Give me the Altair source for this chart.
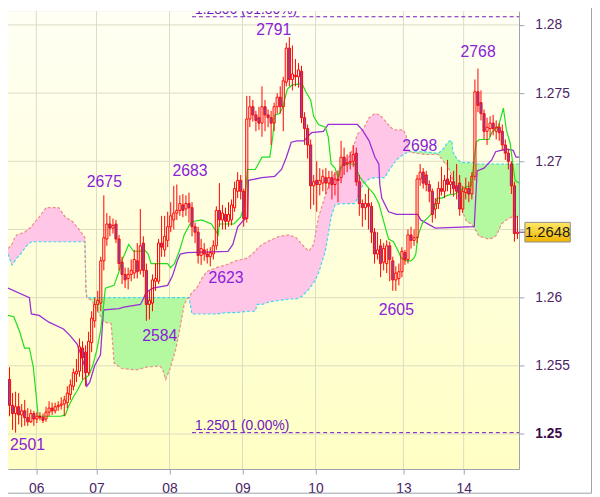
import altair as alt
import pandas as pd

W, H = 518, 464
X_DOMAIN = [0, 168]
Y_DOMAIN = [1.24743, 1.28100]

day_pos = [9.3, 29.1, 53.1, 77.1, 101.1, 130.0, 149.8]
day_labels = ["06", "07", "08", "09", "10", "13", "14"]
y_ticks = [1.25, 1.255, 1.26, 1.265, 1.27, 1.275, 1.28]

opens = [1.2540,1.2521,1.2515,1.2520,1.2514,1.2517,1.2512,1.2509,1.2515,1.2511,
 1.2513,1.2512,1.2511,1.2516,1.2519,1.2517,1.2520,1.2521,1.2522,1.2523,
 1.2529,1.2535,1.2544,1.2546,1.2563,1.2560,1.2545,1.2567,1.2583,1.2595,
 1.2596,1.2627,1.2643,1.2654,1.2651,1.2654,1.2643,1.2626,1.2617,1.2614,
 1.2617,1.2618,1.2627,1.2620,1.2640,1.2620,1.2595,1.2596,1.2612,1.2612,
 1.2640,1.2635,1.2642,1.2652,1.2657,1.2662,1.2664,1.2668,1.2665,1.2669,
 1.2666,1.2652,1.2648,1.2631,1.2635,1.2632,1.2630,1.2632,1.2638,1.2664,
 1.2657,1.2661,1.2656,1.2657,1.2666,1.2678,1.2686,1.2678,1.2658,1.2731,
 1.2740,1.2734,1.2732,1.2728,1.2740,1.2734,1.2732,1.2728,1.2740,1.2747,
 1.2740,1.2758,1.2783,1.2760,1.2763,1.2762,1.2766,1.2732,1.2724,1.2712,
 1.2682,1.2686,1.2683,1.2684,1.2688,1.2684,1.2688,1.2683,1.2687,1.2688,
 1.2703,1.2698,1.2699,1.2700,1.2706,1.2685,1.2669,1.2666,1.2669,1.2667,
 1.2648,1.2632,1.2638,1.2626,1.2625,1.2638,1.2627,1.2613,1.2614,1.2619,
 1.2633,1.2628,1.2646,1.2642,1.2644,1.2687,1.2692,1.2690,1.2683,1.2678,
 1.2665,1.2669,1.2680,1.2678,1.2687,1.2683,1.2685,1.2682,1.2684,1.2665,
 1.2677,1.2680,1.2676,1.2689,1.2751,1.2743,1.2735,1.2722,1.2724,1.2728,
 1.2722,1.2725,1.2722,1.2712,1.2706,1.2698,1.2682,1.2647]

highs = [1.2549,1.2530,1.2531,1.2530,1.2522,1.2525,1.2519,1.2518,1.2517,1.2516,
 1.2516,1.2515,1.2520,1.2524,1.2523,1.2523,1.2524,1.2527,1.2528,1.2535,
 1.2540,1.2548,1.2555,1.2570,1.2568,1.2565,1.2575,1.2590,1.2600,1.2605,
 1.2630,1.2675,1.2662,1.2660,1.2658,1.2657,1.2646,1.2630,1.2622,1.2622,
 1.2628,1.2635,1.2640,1.2665,1.2645,1.2625,1.2605,1.2617,1.2625,1.2643,
 1.2660,1.2660,1.2663,1.2670,1.2682,1.2683,1.2675,1.2676,1.2675,1.2677,
 1.2670,1.2655,1.2652,1.2643,1.2640,1.2636,1.2637,1.2642,1.2667,1.2684,
 1.2668,1.2666,1.2670,1.2672,1.2685,1.2692,1.2690,1.2680,1.2748,1.2748,
 1.2745,1.2737,1.2740,1.2755,1.2745,1.2738,1.2737,1.2743,1.2750,1.2755,
 1.2762,1.2787,1.2791,1.2785,1.2775,1.2772,1.2770,1.2736,1.2727,1.2716,
 1.2690,1.2700,1.2695,1.2694,1.2695,1.2693,1.2693,1.2692,1.2693,1.2715,
 1.2710,1.2705,1.2707,1.2712,1.2710,1.2690,1.2672,1.2676,1.2680,1.2670,
 1.2651,1.2648,1.2643,1.2640,1.2642,1.2641,1.2630,1.2623,1.2625,1.2637,
 1.2635,1.2650,1.2652,1.2650,1.2690,1.2698,1.2695,1.2693,1.2686,1.2680,
 1.2673,1.2685,1.2696,1.2690,1.2701,1.2690,1.2693,1.2698,1.2690,1.2682,
 1.2688,1.2685,1.2692,1.2760,1.2768,1.2752,1.2738,1.2732,1.2733,1.2734,
 1.2730,1.2728,1.2727,1.2716,1.2709,1.2700,1.2685,1.2660]

lows = [1.2513,1.2503,1.2501,1.2507,1.2505,1.2506,1.2506,1.2508,1.2506,1.2508,
 1.2510,1.2508,1.2509,1.2513,1.2514,1.2515,1.2517,1.2518,1.2513,1.2519,
 1.2525,1.2532,1.2538,1.2542,1.2540,1.2535,1.2543,1.2560,1.2578,1.2590,
 1.2590,1.2620,1.2638,1.2645,1.2647,1.2640,1.2620,1.2610,1.2607,1.2606,
 1.2612,1.2614,1.2614,1.2617,1.2615,1.2583,1.2584,1.2590,1.2605,1.2610,
 1.2630,1.2630,1.2637,1.2648,1.2650,1.2657,1.2660,1.2659,1.2660,1.2655,
 1.2645,1.2640,1.2625,1.2624,1.2627,1.2625,1.2623,1.2628,1.2635,1.2652,
 1.2650,1.2650,1.2652,1.2653,1.2663,1.2673,1.2672,1.2652,1.2655,1.2725,
 1.2729,1.2722,1.2723,1.2718,1.2722,1.2725,1.2712,1.2722,1.2735,1.2735,
 1.2722,1.2755,1.2755,1.2752,1.2755,1.2754,1.2728,1.2712,1.2702,1.2665,
 1.2668,1.2663,1.2675,1.2678,1.2676,1.2680,1.2672,1.2675,1.2670,1.2684,
 1.2690,1.2692,1.2694,1.2696,1.2682,1.2660,1.2652,1.2657,1.2650,1.2640,
 1.2625,1.2628,1.2615,1.2620,1.2618,1.2612,1.2605,1.2605,1.2609,1.2615,
 1.2624,1.2625,1.2636,1.2638,1.2640,1.2682,1.2680,1.2678,1.2670,1.2655,
 1.2658,1.2665,1.2675,1.2673,1.2678,1.2676,1.2674,1.2672,1.2660,1.2662,
 1.2672,1.2670,1.2672,1.2686,1.2736,1.2730,1.2716,1.2712,1.2718,1.2719,
 1.2716,1.2715,1.2708,1.2701,1.2694,1.2676,1.2641,1.2643]

closes = [1.2521,1.2515,1.2520,1.2514,1.2517,1.2512,1.2509,1.2515,1.2511,1.2513,
 1.2512,1.2510,1.2516,1.2519,1.2517,1.2520,1.2521,1.2522,1.2525,1.2530,
 1.2536,1.2545,1.2546,1.2564,1.2556,1.2545,1.2568,1.2585,1.2595,1.2598,
 1.2627,1.2644,1.2654,1.2651,1.2653,1.2643,1.2625,1.2617,1.2613,1.2617,
 1.2620,1.2628,1.2619,1.2638,1.2620,1.2595,1.2598,1.2613,1.2614,1.2640,
 1.2637,1.2645,1.2652,1.2660,1.2662,1.2664,1.2669,1.2664,1.2669,1.2666,
 1.2652,1.2648,1.2631,1.2636,1.2632,1.2630,1.2633,1.2638,1.2664,1.2657,
 1.2662,1.2656,1.2661,1.2668,1.2680,1.2686,1.2678,1.2658,1.2731,1.2740,
 1.2734,1.2730,1.2728,1.2740,1.2734,1.2732,1.2728,1.2740,1.2747,1.2740,
 1.2759,1.2783,1.2760,1.2764,1.2762,1.2767,1.2732,1.2724,1.2712,1.2682,
 1.2685,1.2683,1.2686,1.2689,1.2684,1.2688,1.2683,1.2687,1.2686,1.2703,
 1.2697,1.2699,1.2700,1.2705,1.2685,1.2669,1.2666,1.2669,1.2667,1.2648,
 1.2632,1.2635,1.2625,1.2636,1.2638,1.2628,1.2613,1.2618,1.2619,1.2634,
 1.2628,1.2646,1.2642,1.2644,1.2687,1.2692,1.2684,1.2683,1.2678,1.2661,
 1.2669,1.2680,1.2678,1.2686,1.2683,1.2685,1.2680,1.2678,1.2665,1.2678,
 1.2680,1.2676,1.2689,1.2751,1.2741,1.2735,1.2722,1.2725,1.2728,1.2724,
 1.2725,1.2721,1.2712,1.2706,1.2700,1.2682,1.2647,1.2648]

tenkan_x = [0, 1.92, 3.84, 5.44, 7.04, 8.32, 9.28, 9.92, 17.28, 18.88, 19.84, 21.44, 23.04, 24.64, 26.56,
 27.84, 29.12, 30.4, 31.36, 32.0, 34.88, 36.48, 37.44, 39.68, 41.28, 43.52, 44.48, 46.08, 47.04, 52.48,
 53.44, 54.72, 56.32, 57.92, 59.84, 61.12, 63.68, 66.88, 69.12, 69.44, 74.24, 76.48, 77.76, 78.72, 81.28,
 83.52, 86.08, 87.04, 87.68, 89.28, 90.24, 91.84, 93.44, 96.64, 97.92, 99.52, 100.48, 102.08, 104.32, 105.28,
 106.24, 107.52, 108.48, 109.44, 110.08, 113.92, 115.52, 116.48, 118.72, 120.32, 121.92, 122.88, 124.48, 125.12,
 126.72, 128.32, 129.28, 130.88, 132.48, 133.44, 134.08, 134.72, 136.32, 138.24, 139.84, 141.12, 142.72, 144.32,
 146.88, 148.48, 150.08, 152.32, 152.64, 153.92, 154.88, 158.08, 159.04, 161.28, 162.88, 163.84, 165.12, 166.08,
 166.72, 168]
tenkan_y = [1.2587, 1.2586, 1.2575, 1.2563, 1.2563, 1.2549, 1.2528, 1.2513, 1.2513, 1.2514, 1.2520, 1.2527, 1.2533, 1.2540, 1.2543,
 1.2550, 1.2561, 1.2575, 1.2593, 1.2607, 1.2609, 1.2619, 1.2627, 1.2639, 1.2634, 1.2634, 1.2636, 1.2632, 1.2625, 1.2625,
 1.2622, 1.2625, 1.2634, 1.2646, 1.2654, 1.2656, 1.2657, 1.2654, 1.2646, 1.2654, 1.2654, 1.2659, 1.2668, 1.2694, 1.2694,
 1.2703, 1.2703, 1.2718, 1.2734, 1.2735, 1.2739, 1.2753, 1.2756, 1.2757, 1.2751, 1.2745, 1.2733, 1.2727, 1.2725, 1.2718,
 1.2698, 1.2695, 1.2688, 1.2695, 1.2698, 1.2698, 1.2689, 1.2686, 1.2680, 1.2676, 1.2669, 1.2661, 1.2648, 1.2643,
 1.2641, 1.2634, 1.2629, 1.2627, 1.2627, 1.2629, 1.2632, 1.2645, 1.2655, 1.2659, 1.2663, 1.2673, 1.2673, 1.2675,
 1.2676, 1.2678, 1.2681, 1.2682, 1.2689, 1.2714, 1.2716, 1.2716, 1.2721, 1.2726, 1.2739, 1.2723, 1.2713, 1.2696,
 1.2686, 1.2684]

kijun_x = [0, 7.04, 7.68, 10.24, 13.44, 18.24, 20.48, 22.72, 24.32, 25.28, 25.92, 26.88, 28.48, 30.4, 31.36,
 31.68, 36.48, 38.08, 43.52, 44.48, 45.44, 47.68, 52.48, 54.08, 55.68, 56.64, 58.88, 72.32, 73.92, 75.52,
 77.12, 78.72, 79.04, 83.52, 87.68, 89.92, 91.52, 93.12, 95.04, 97.28, 98.88, 99.84, 103.68, 105.28, 114.88,
 116.48, 118.72, 120.64, 121.92, 122.24, 122.88, 125.12, 127.68, 134.72, 135.68, 140.48, 153.28, 154.24, 156.48,
 159.04, 160.32, 163.84, 166.08, 167.04, 168]
kijun_y = [1.2607, 1.2600, 1.2588, 1.2587, 1.2582, 1.2577, 1.2572, 1.2566, 1.2556, 1.2549, 1.2535, 1.2538, 1.2550, 1.2558, 1.2590,
 1.2591, 1.2592, 1.2593, 1.2595, 1.2599, 1.2604, 1.2607, 1.2609, 1.2616, 1.2627, 1.2632, 1.2633, 1.2634, 1.2639, 1.2652,
 1.2656, 1.2659, 1.2686, 1.2688, 1.2689, 1.2694, 1.2703, 1.2714, 1.2715, 1.2715, 1.2719, 1.2721, 1.2722, 1.2727, 1.2727,
 1.2723, 1.2715, 1.2703, 1.2698, 1.2683, 1.2673, 1.2663, 1.2661, 1.2661, 1.2657, 1.2651, 1.2652, 1.2693, 1.2695,
 1.2701, 1.2707, 1.2709, 1.2708, 1.2703, 1.2703]

pink1_x = [0, 1.28, 2.24, 2.88, 4.16, 5.44, 6.08, 7.68, 8.32, 10.24, 12.48, 15.04, 16.64, 18.88, 21.12, 23.04, 25.28]
pink1_b = [1.2636, 1.2639, 1.2644, 1.2646, 1.2647, 1.2648, 1.2649, 1.2652, 1.2654, 1.2659, 1.2666, 1.2666, 1.2666, 1.2659, 1.2656, 1.2651, 1.2644]
pink1_a = [1.2632, 1.2624, 1.2627, 1.2629, 1.2632, 1.2636, 1.2638, 1.2641, 1.2641, 1.2641, 1.2641, 1.2641, 1.2641, 1.2641, 1.2641, 1.2641, 1.2641]

green1_x = [25.6, 25.92, 27.52, 29.44, 31.68, 33.92, 34.88, 37.44, 42.24, 45.44, 49.92, 50.88, 51.84, 53.12, 54.08, 55.04, 56.32, 57.92, 58.88, 59.52]
green1_a = [1.2607, 1.2600, 1.2600, 1.2600, 1.2600, 1.2600, 1.2600, 1.2600, 1.2600, 1.2600, 1.2600, 1.2600, 1.2600, 1.2600, 1.2600, 1.2600, 1.2600, 1.2600, 1.2600, 1.2600]
green1_b = [1.2606, 1.2600, 1.2598, 1.2590, 1.2582, 1.2581, 1.2552, 1.2548, 1.2547, 1.2549, 1.2550, 1.2547, 1.2540, 1.2547, 1.2554, 1.2561, 1.2575, 1.2595, 1.2599, 1.2600]

pink2_x = [59.52, 60.48, 62.08, 63.68, 65.28, 68.48, 71.68, 74.88, 78.72, 81.28, 81.92, 83.52, 86.08, 89.28, 92.48, 94.72, 96.64, 98.88, 100.48, 102.08,
 104.32, 106.24, 107.52, 109.44, 112.64, 113.92, 114.88, 116.48, 117.12, 118.72, 120.64, 122.24, 123.84, 125.44, 126.72, 127.68, 129.92, 130.88, 131.52, 131.84]
pink2_b = [1.2600, 1.2604, 1.2607, 1.2614, 1.2619, 1.2622, 1.2624, 1.2627, 1.2629, 1.2634, 1.2636, 1.2639, 1.2642, 1.2645, 1.2646, 1.2644, 1.2639, 1.2634, 1.2639, 1.2659,
 1.2675, 1.2687, 1.2691, 1.2696, 1.2705, 1.2713, 1.2720, 1.2723, 1.2725, 1.2732, 1.2735, 1.2734, 1.2730, 1.2726, 1.2723, 1.2723, 1.2723, 1.2719, 1.2710, 1.2707]
pink2_a = [1.2600, 1.2588, 1.2588, 1.2588, 1.2588, 1.2588, 1.2589, 1.2589, 1.2590, 1.2590, 1.2595, 1.2595, 1.2597, 1.2598, 1.2599, 1.2599, 1.2601, 1.2606, 1.2611, 1.2618,
 1.2634, 1.2659, 1.2668, 1.2669, 1.2669, 1.2669, 1.2673, 1.2682, 1.2684, 1.2687, 1.2688, 1.2688, 1.2688, 1.2694, 1.2698, 1.2701, 1.2705, 1.2706, 1.2707, 1.2707]

green2_x = [131.84, 134.08, 137.28, 140.48, 141.44, 142.08, 142.72, 143.68, 144.32, 144.64, 145.28, 145.92, 146.24, 147.52, 148.48,
 149.44, 150.72, 152.32, 153.28, 153.92, 154.88, 156.48, 158.08, 159.68, 160.64, 162.24, 163.84, 165.44, 168]
green2_a = [1.2707, 1.2707, 1.2707, 1.2706, 1.2706, 1.2707, 1.2708, 1.2711, 1.2713, 1.2714, 1.2715, 1.2715, 1.2707, 1.2702, 1.2700,
 1.2699, 1.2699, 1.2699, 1.2699, 1.2698, 1.2698, 1.2698, 1.2698, 1.2698, 1.2698, 1.2698, 1.2698, 1.2698, 1.2698]
green2_b = [1.2707, 1.2706, 1.2705, 1.2705, 1.2705, 1.2703, 1.2702, 1.2698, 1.2698, 1.2696, 1.2693, 1.2689, 1.2684, 1.2681, 1.2673,
 1.2663, 1.2656, 1.2654, 1.2651, 1.2649, 1.2645, 1.2644, 1.2643, 1.2644, 1.2646, 1.2654, 1.2657, 1.2659, 1.2659]

peak_text = ["2675", "2683", "2791", "2768", "2698", "2623", "2584", "2605", "2501"]
peak_x = [31.68, 59.84, 87.36, 154.56, 135.36, 71.68, 49.92, 127.68, 6.4]
peak_y = [1.2685, 1.2693, 1.2796, 1.2780, 1.2711, 1.2614, 1.2572, 1.2591, 1.2492]

fib_levels = [1.2806, 1.2501]
fib_text = ["1.2806 (61.80%)", "1.2501 (0.00%)"]
fib_start = [60.5, 60.5]
fib_end = [168, 168]

last_price = closes[-1]

# ---------------- styling ----------------
FONT = "Liberation Sans"
AXIS_COLOR = "#9aa3ad"
LABEL_COLOR = "#4a2466"
GRID = "#dcdbc3"
PINK = "#ffc6e8"
GREEN = "#b4f8a0"
CYAN = "#3fd7f2"
SALMON = "#f08a8a"
TENKAN = "#1ee01e"
KIJUN = "#9a2fd6"
PEAK = "#8a22d8"
FIB = "#7016c0"
RED = "#ff0000"
BODY_FILL = "#7550c0"

xs = alt.Scale(domain=X_DOMAIN, nice=False, zero=False)
ys = alt.Scale(domain=Y_DOMAIN, nice=False, zero=False)

x_label_expr = " : ".join(
    f"datum.value < {p + 5} ? '{l}'" for p, l in zip(day_pos[:-1], day_labels[:-1])
) + f" : '{day_labels[-1]}'"

x_axis = alt.Axis(values=day_pos, labelExpr=x_label_expr, grid=False, ticks=True, tickSize=5,
                  tickColor=AXIS_COLOR, domainColor=AXIS_COLOR, labelColor=LABEL_COLOR,
                  labelFont=FONT, labelFontSize=14, labelPadding=8, title=None,
                  orient="bottom", labelAngle=0, labelFlush=False)
y_axis = alt.Axis(values=y_ticks, orient="right", format=".3~f",
                  labelExpr="abs(datum.value - 1.265) < 0.0001 ? '' : datum.label",
                  grid=False, ticks=True, tickSize=5, tickColor=AXIS_COLOR, domainColor=AXIS_COLOR,
                  labelColor={"condition": {"test": "datum.value < 1.2525", "value": "#3a0d4a"}, "value": LABEL_COLOR},
                  labelFontWeight={"condition": {"test": "datum.value < 1.2525", "value": "bold"}, "value": "normal"},
                  labelFont=FONT, labelFontSize=14, labelPadding=11, title=None, labelFlush=False)


def X(f):
    return alt.X(f, type="quantitative", scale=xs, axis=x_axis)


def Y(f):
    return alt.Y(f, type="quantitative", scale=ys, axis=y_axis)


# ---------------- data frames ----------------
n = len(opens)
cdf = pd.DataFrame({"i": range(n), "open": opens, "high": highs, "low": lows, "close": closes})
cdf["x"] = cdf["i"] + 0.5
cdf["xl"] = cdf["i"] + 0.15
cdf["xr"] = cdf["i"] + 0.85
cdf["top"] = cdf[["open", "close"]].max(axis=1)
cdf["bot"] = cdf[["open", "close"]].min(axis=1)

segs = [("bear", pink1_x, pink1_a, pink1_b), ("bull", green1_x, green1_a, green1_b),
        ("bear", pink2_x, pink2_a, pink2_b), ("bull", green2_x, green2_a, green2_b)]
frames = []
for sid, (kind, sx, sa, sb) in enumerate(segs):
    frames.append(pd.DataFrame({"x": sx, "a": sa, "b": sb, "seg": sid, "kind": kind}))
cloud_df = pd.concat(frames, ignore_index=True)
cloud_df["order"] = range(len(cloud_df))

tk_df = pd.DataFrame({"x": tenkan_x, "y": tenkan_y})
kj_df = pd.DataFrame({"x": kijun_x, "y": kijun_y})
peak_df = pd.DataFrame({"x": peak_x, "y": peak_y, "t": peak_text})
fib_df = pd.DataFrame({"xs": fib_start, "xe": fib_end, "y": fib_levels, "t": fib_text})
price_df = pd.DataFrame({"p": [last_price], "lbl": [f"{last_price:.4f}"]})
grid_y_df = pd.DataFrame({"v": y_ticks})
grid_x_df = pd.DataFrame({"v": day_pos})
one = pd.DataFrame({"v": [0]})

# ---------------- layers ----------------
bg = alt.Chart(one).mark_rect(
    fill={"gradient": "linear", "x1": 0, "y1": 0, "x2": 0, "y2": 1,
          "stops": [{"offset": 0, "color": "#fffff4"}, {"offset": 1, "color": "#ffffc4"}]},
    strokeWidth=0,
).encode(x=alt.value(0), x2=alt.value(W), y=alt.value(0), y2=alt.value(H))

grid_y = alt.Chart(grid_y_df).mark_rule(color=GRID, strokeWidth=1).encode(y=Y("v"))
grid_x = alt.Chart(grid_x_df).mark_rule(color=GRID, strokeWidth=1).encode(x=X("v"))

cloud = alt.Chart(cloud_df).mark_area(opacity=1, interpolate="linear").encode(
    x=X("x"), y=Y("a"), y2="b", detail="seg:N",
    color=alt.Color("kind:N", scale=alt.Scale(domain=["bear", "bull"], range=[PINK, GREEN]), legend=None),
)
span_a = alt.Chart(cloud_df).mark_line(color=CYAN, strokeWidth=1.2, strokeDash=[3, 2]).encode(
    x=X("x"), y=Y("a"), order="order:Q")
span_b = alt.Chart(cloud_df).mark_line(color=SALMON, strokeWidth=1.2, strokeDash=[3, 2]).encode(
    x=X("x"), y=Y("b"), order="order:Q")

fib_lines = alt.Chart(fib_df).mark_rule(color=FIB, strokeWidth=1, strokeDash=[4, 3]).encode(
    x=X("xs"), x2="xe", y=Y("y"))
fib_labels = alt.Chart(fib_df).mark_text(align="left", baseline="alphabetic", dx=3, dy=-3,
                                         fontSize=14, font=FONT, color=FIB, clip=True).encode(
    x=X("xs"), y=Y("y"), text="t:N")

kijun = alt.Chart(kj_df).mark_line(color=KIJUN, strokeWidth=1.3).encode(x=X("x"), y=Y("y"))
tenkan = alt.Chart(tk_df).mark_line(color=TENKAN, strokeWidth=1.2).encode(x=X("x"), y=Y("y"))

wick_hi = alt.Chart(cdf).mark_rule(color=RED, strokeWidth=1).encode(x=X("x"), y=Y("high"), y2="top")
wick_lo = alt.Chart(cdf).mark_rule(color=RED, strokeWidth=1).encode(x=X("x"), y=Y("bot"), y2="low")
bodies = alt.Chart(cdf).mark_rect(stroke=RED, strokeWidth=1).encode(
    x=X("xl"), x2="xr", y=Y("top"), y2="bot",
    fill=alt.condition("datum.close >= datum.open", alt.value("transparent"), alt.value(BODY_FILL)),
)

peaks = alt.Chart(peak_df).mark_text(fontSize=16, font=FONT, color=PEAK, align="center",
                                     baseline="middle").encode(x=X("x"), y=Y("y"), text="t:N")

price_conn = alt.Chart(price_df).mark_rule(color="#6a2a8a", strokeWidth=1).encode(
    x=alt.value(W), x2=alt.value(524), y=Y("p"))
price_box = alt.Chart(price_df).transform_calculate(
    pt="datum.p + 0.00072", pb="datum.p - 0.00072"
).mark_rect(
    fill={"gradient": "linear", "x1": 0, "y1": 0, "x2": 0, "y2": 1,
          "stops": [{"offset": 0, "color": "#ffe866"}, {"offset": 1, "color": "#f0b400"}]},
    stroke="#8c8c8c", strokeWidth=1, clip=False,
).encode(x=alt.value(524), x2=alt.value(570), y=Y("pt:Q"), y2="pb:Q")
price_text = alt.Chart(price_df).mark_text(fontSize=15, font=FONT, color="#1a1a1a", align="center",
                                           baseline="middle").encode(
    x=alt.value(547), y=Y("p"), text="lbl:N")

frame_r = alt.Chart(one).mark_rule(color=AXIS_COLOR, strokeWidth=1).encode(
    x=alt.value(591.5), y=alt.value(-8), y2=alt.value(488.5))
frame_b = alt.Chart(one).mark_rule(color=AXIS_COLOR, strokeWidth=1).encode(
    x=alt.value(-8), x2=alt.value(591.5), y=alt.value(488.5))

chart = alt.layer(
    bg, grid_y, grid_x, cloud, span_a, span_b, fib_lines, fib_labels,
    kijun, tenkan, wick_hi, wick_lo, bodies, peaks,
    price_conn, price_box, price_text, frame_r, frame_b,
).properties(
    width=W, height=H,
    padding={"left": 0, "top": 0, "right": 74, "bottom": 25},
    autosize=alt.AutoSizeParams(type="none"),
).configure_view(stroke=AXIS_COLOR, strokeWidth=1).configure(background="white")

chart.save("out.html", embed_options={"renderer": "svg", "actions": False})
